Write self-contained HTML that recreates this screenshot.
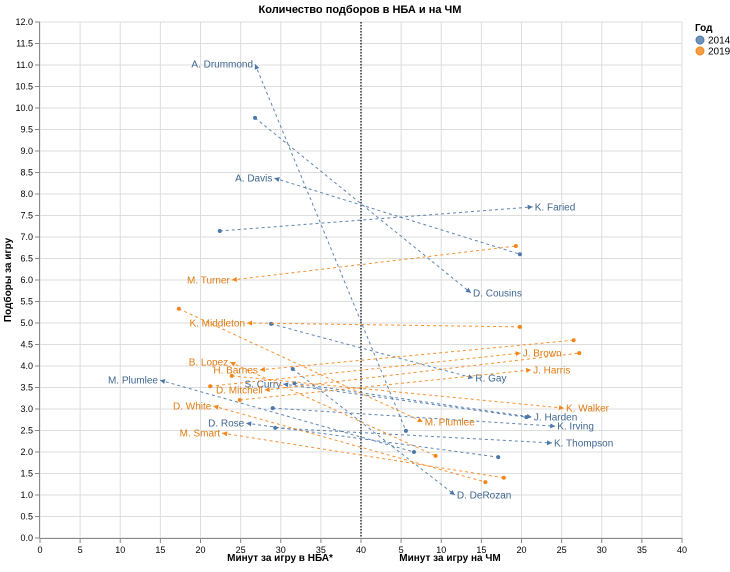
<!DOCTYPE html>
<html><head><meta charset="utf-8"><style>
body{margin:0;background:#fff;}
svg{font-family:"Liberation Sans","DejaVu Sans",sans-serif;}
</style></head><body>
<svg id="chart" width="730" height="567">
<text x="360" y="13" text-anchor="middle" font-size="11" font-weight="bold">Количество подборов в НБА и на ЧМ</text>
<g id="grid"></g>
<g id="axes"></g>
<g id="marks"></g>
<text x="280" y="561" text-anchor="middle" font-size="10" font-weight="bold">Минут за игру в НБА*</text>
<text x="450" y="561" text-anchor="middle" font-size="10" font-weight="bold">Минут за игру на ЧМ</text>
<text transform="translate(11,280) rotate(-90)" text-anchor="middle" font-size="10" font-weight="bold">Подборы за игру</text>
<g>
<text x="695" y="31" font-size="10" font-weight="bold">Год</text>
<circle cx="700" cy="40" r="4" fill="#4c78a8" fill-opacity="0.8" stroke="#4c78a8"/>
<text x="708" y="43.5" font-size="10">2014</text>
<circle cx="700" cy="51" r="4" fill="#f58518" fill-opacity="0.8" stroke="#f58518"/>
<text x="708" y="54.5" font-size="10">2019</text>
</g>
</svg>
<script>
const players = ["A. Drummond","D. Cousins","A. Davis","K. Faried","R. Gay","M. Plumlee","D. DeRozan","J. Harden","S. Curry","K. Irving","D. Rose","K. Thompson",
"M. Turner","K. Middleton","M. Plumlee","B. Lopez","H. Barnes","D. Mitchell","D. White","M. Smart","J. Brown","J. Harris","K. Walker"];
const years = [2014,2014,2014,2014,2014,2014,2014,2014,2014,2014,2014,2014,2019,2019,2019,2019,2019,2019,2019,2019,2019,2019,2019];
const nbaMin = [26.8,26.8,29.2,22.4,28.8,14.95,31.5,31.7,30.3,29.0,25.7,29.3, 23.9,25.8,17.3,23.7,27.4,28.0,21.6,22.7,21.2,24.9,23.9];
const nbaReb = [11.02,9.77,8.37,7.14,4.98,3.67,3.93,3.60,3.58,3.02,2.67,2.56, 6.0,5.0,5.33,4.09,3.91,3.44,3.07,2.44,3.53,3.21,3.77];
const wcMin = [5.6,13.7,19.8,21.4,14.0,6.6,11.7,21.3,20.6,24.2,17.1,23.8, 19.3,19.8,7.7,9.3,26.5,27.2,15.5,17.8,19.9,21.2,25.3];
const wcReb = [2.49,5.70,6.60,7.70,3.72,2.0,1.0,2.81,2.81,2.60,1.88,2.21, 6.79,4.91,2.70,1.91,4.60,4.30,1.30,1.40,4.30,3.91,3.02];
const labelEnd = ["nba","wc","nba","wc","wc","nba","wc","wc","nba","wc","nba","wc", "nba","nba","wc","nba","nba","nba","nba","nba","wc","wc","wc"];
const yTicks = [0,0.5,1,1.5,2,2.5,3,3.5,4,4.5,5,5.5,6,6.5,7,7.5,8,8.5,9,9.5,10,10.5,11,11.5,12];
const xTicks = [0,5,10,15,20,25,30,35,40,45,50,55,60,65,70,75,80];

const NS="http://www.w3.org/2000/svg";
const X0=40,X1=682,Y0=538,Y1=22;
function xs(v){return X0+(X1-X0)*v/80;}
function ys(v){return Y0-(Y0-Y1)*v/12;}
function mk(tag,attrs,parent){const e=document.createElementNS(NS,tag);for(const k in attrs)e.setAttribute(k,attrs[k]);parent.appendChild(e);return e;}
const grid=document.getElementById('grid'),axes=document.getElementById('axes'),marks=document.getElementById('marks');
const colors={2014:"#4c78a8",2019:"#f58518"};
const textColors={2014:"#3f6690",2019:"#e07b12"};

yTicks.forEach(t=>{
  const g=mk('line',{x1:X0,x2:X1,y1:ys(t),y2:ys(t),stroke:"#ddd","stroke-width":1},grid);
  
  
  const tk=mk('line',{x1:X0-5,x2:X0,y1:ys(t),y2:ys(t),stroke:"#888"},axes);
  
  
  const lb=mk('text',{x:X0-7,y:ys(t)+3,"text-anchor":"end","font-size":"9",fill:"#000"},axes);
  lb.textContent=t.toFixed(1);
  
  
});
xTicks.forEach(t=>{
  const g=mk('line',{x1:xs(t),x2:xs(t),y1:Y1,y2:Y0,stroke:"#ddd","stroke-width":1},grid);
  
  
  const tk=mk('line',{x1:xs(t),x2:xs(t),y1:Y0,y2:Y0+5,stroke:"#888"},axes);
  
  
  const lb=mk('text',{x:xs(t),y:Y0+15,"text-anchor":"middle","font-size":"9",fill:"#000"},axes);
  lb.textContent=(t>40?t-40:t);
  
  
});
const xa=mk('line',{x1:X0,x2:X1,y1:Y0+0.5,y2:Y0+0.5,stroke:"#888"},axes);


const ya=mk('line',{x1:X0-0.5,x2:X0-0.5,y1:Y1,y2:Y0,stroke:"#888"},axes);


const mid=mk('line',{x1:xs(40),x2:xs(40),y1:Y1,y2:Y0,stroke:"#000","stroke-width":1.2,"stroke-dasharray":"1.5,1.5"},axes);



players.forEach((p,i)=>{
  const yr=years[i],c=colors[yr];
  const ax=xs(nbaMin[i]),ay=ys(nbaReb[i]),bx=xs(40+wcMin[i]),by=ys(wcReb[i]);
  const ln=mk('line',{x1:ax,y1:ay,x2:bx,y2:by,stroke:c,"stroke-width":1,"stroke-opacity":0.9,"stroke-dasharray":"3,3"},marks);
  
  
  let lx,ly,ox,oy;
  if(labelEnd[i]==="nba"){lx=ax;ly=ay;ox=bx;oy=by;}else{lx=bx;ly=by;ox=ax;oy=ay;}
  const d=mk('circle',{cx:ox,cy:oy,r:2,fill:c},marks);
  
  
  const ang=Math.atan2(ly-oy,lx-ox);
  const s=5,w=2.5;
  const p1=[lx,ly],p2=[lx-s*Math.cos(ang)+w*Math.sin(ang),ly-s*Math.sin(ang)-w*Math.cos(ang)],p3=[lx-s*Math.cos(ang)-w*Math.sin(ang),ly-s*Math.sin(ang)+w*Math.cos(ang)];
  const ar=mk('polygon',{points:[p1,p2,p3].map(q=>q.join(',')).join(' '),fill:c},marks);
  
  
  const tx=mk('text',{x:labelEnd[i]==="nba"?lx-2:lx+2,y:ly+3.5,"text-anchor":labelEnd[i]==="nba"?"end":"start","font-size":"10",fill:textColors[yr]},marks);
  tx.textContent=p;
  
  
});
</script>
</body></html>
